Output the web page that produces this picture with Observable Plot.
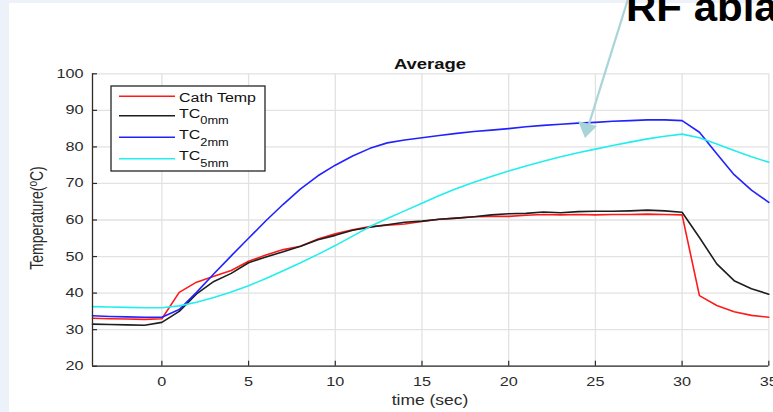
<!DOCTYPE html>
<html><head><meta charset="utf-8">
<script src="https://cdn.jsdelivr.net/npm/d3@7"></script>
<script src="https://cdn.jsdelivr.net/npm/@observablehq/plot@0.6"></script>
<style>
html,body{margin:0;padding:0}
body{width:773px;height:412px;overflow:hidden;background:#edf1fa;position:relative;font-family:"Liberation Sans",Arial,sans-serif}
#paper{position:absolute;left:9px;top:3px;right:0;bottom:0;background:#fff}
#chart{position:absolute;left:0;top:0}
#over{position:absolute;left:0;top:0;pointer-events:none}
</style></head><body>
<div id="paper"></div>
<div id="chart"></div>
<svg id="over" width="773" height="412"></svg>
<script>
// ---- data ----
const time = [-4,-3,-2,-1,0,1,2,3,4,5,6,7,8,9,10,11,12,13,14,15,16,17,18,19,20,21,22,23,24,25,26,27,28,29,30,31,32,33,34,35];
const cathTemp = [33.1,33.0,32.9,32.8,33.0,40.2,43.0,44.6,46.2,48.7,50.4,51.9,52.8,54.8,56.2,57.3,58.2,58.6,58.9,59.6,60.2,60.5,60.9,61.0,61.0,61.3,61.5,61.4,61.5,61.4,61.5,61.5,61.6,61.5,61.4,39.3,36.6,34.9,33.9,33.4];
const tc0mm = [31.5,31.4,31.3,31.2,32.0,35.0,39.8,43.2,45.4,48.3,49.9,51.3,52.8,54.6,55.8,57.2,58.0,58.7,59.4,59.7,60.2,60.5,60.9,61.4,61.7,61.8,62.2,62.0,62.3,62.4,62.4,62.5,62.7,62.5,62.1,55.2,48.0,43.4,41.2,39.7];
const tc2mm = [33.8,33.6,33.5,33.4,33.4,35.5,40.2,45.3,50.2,55.0,59.8,64.3,68.5,72.1,75.0,77.5,79.6,81.1,81.9,82.5,83.1,83.7,84.2,84.6,85.0,85.5,85.9,86.2,86.5,86.7,87.0,87.2,87.4,87.4,87.2,84.0,78.1,72.4,68.2,64.8];
const tc5mm = [36.3,36.2,36.1,36.0,36.0,36.5,37.5,38.8,40.3,42.0,44.0,46.1,48.3,50.6,53.0,55.6,58.2,60.4,62.5,64.6,66.7,68.6,70.3,71.9,73.4,74.8,76.1,77.3,78.4,79.4,80.4,81.3,82.2,82.9,83.5,82.5,80.8,79.0,77.3,75.8];
const seriesNames = ["Cath Temp", "TC0mm", "TC2mm", "TC5mm"];
const seriesColors = ["#ff1a1a", "#1e1e1e", "#2222ff", "#22eeee"];
const xTicks = [0,5,10,15,20,25,30,35];
const yTicks = [20,30,40,50,60,70,80,90,100];
const title = "Average";
const xLabel = "time (sec)";

const seriesValues = [cathTemp, tc0mm, tc2mm, tc5mm];
const rows = [];
seriesNames.forEach((s, k) => time.forEach((t, i) => rows.push({series: s, time: t, value: seriesValues[k][i]})));

const axisColor = "#2b2b2b";
const plot = Plot.plot({
  width: 773, height: 412,
  marginLeft: 92, marginRight: 4.7, marginTop: 73.3, marginBottom: 46.3,
  style: {background: "transparent", fontFamily: "'Liberation Sans', Arial, sans-serif", fontSize: "12.5px", color: axisColor, overflow: "hidden"},
  x: {domain: [-4, 35]},
  y: {domain: [20, 100]},
  color: {domain: seriesNames, range: seriesColors},
  marks: [
    Plot.gridX(xTicks, {stroke: "#e2e2e2", strokeOpacity: 1, strokeWidth: 1.3}),
    Plot.gridY(yTicks, {stroke: "#e2e2e2", strokeOpacity: 1, strokeWidth: 1.3}),
    Plot.lineY(rows, {x: "time", y: "value", z: "series", stroke: "series", strokeWidth: 1.6}),
    Plot.ruleX([-4], {stroke: axisColor, strokeWidth: 1.3}),
    Plot.ruleY([20], {stroke: axisColor, strokeWidth: 1.3}),
    Plot.axisX(xTicks, {tickSize: -5, tickPadding: 16, label: null, stroke: axisColor, strokeWidth: 1.2}),
    Plot.axisY(yTicks, {tickSize: -5, tickPadding: 14, label: null, stroke: axisColor, strokeWidth: 1.2})
  ]
});
document.getElementById("chart").appendChild(plot);

// widen tick label glyphs like the reference
plot.querySelectorAll('g[aria-label="x-axis tick label"] text, g[aria-label="y-axis tick label"] text').forEach(t => {
  const tr = t.getAttribute("transform") || "";
  t.setAttribute("transform", tr + " scale(1.3,1)");
  t.setAttribute("fill", axisColor);
});

// ---- overlay: title, labels, legend, annotation ----
const over = d3.select("#over");
const font = "'Liberation Sans', Arial, sans-serif";

// title
over.append("text").attr("transform", "translate(430,68.5) scale(1.32,1)")
  .attr("text-anchor", "middle").attr("font-family", font).attr("font-weight", "bold")
  .attr("font-size", 14).attr("fill", "#111").text(title);

// x label
over.append("text").attr("transform", "translate(430,404.5) scale(1.25,1)")
  .attr("text-anchor", "middle").attr("font-family", font).attr("font-size", 14).attr("fill", axisColor).text(xLabel);

// y label
const yl = over.append("text").attr("transform", "translate(43,218) rotate(-90) scale(1,1.25)")
  .attr("text-anchor", "middle").attr("font-family", font).attr("font-size", 14).attr("fill", axisColor);
yl.append("tspan").text("Temperature(");
yl.append("tspan").attr("font-size", 10).attr("dy", -5).text("o");
yl.append("tspan").attr("dy", 5).text("C)");

// legend
const lg = over.append("g");
lg.append("rect").attr("x", 111).attr("y", 86).attr("width", 154).attr("height", 85)
  .attr("fill", "#fff").attr("stroke", "#262626").attr("stroke-width", 1.3);
const lineY = [96.3, 115.7, 137.3, 158.7];
const textY = [101.7, 117.8, 139.4, 160.4];
seriesNames.forEach((s, k) => {
  lg.append("line").attr("x1", 119).attr("x2", 175).attr("y1", lineY[k]).attr("y2", lineY[k])
    .attr("stroke", seriesColors[k]).attr("stroke-width", 1.6);
  const t = lg.append("text").attr("transform", `translate(179,${textY[k]}) scale(1.28,1)`)
    .attr("font-family", font).attr("font-size", 12.5).attr("fill", "#111");
  if (s.startsWith("TC")) {
    t.append("tspan").text("TC");
    t.append("tspan").attr("font-size", 10).attr("dy", 6.3).text(s.slice(2));
  } else {
    t.text(s);
  }
});

// annotation from the slide
over.append("text").attr("transform", "translate(626,21) scale(1.05,1)")
  .attr("font-family", font).attr("font-weight", "bold").attr("font-size", 40).attr("fill", "#000").text("RF ablation");
over.append("line").attr("x1", 628).attr("y1", -1).attr("x2", 589).attr("y2", 124)
  .attr("stroke", "#a9d4d9").attr("stroke-width", 2.2);
over.append("path").attr("d", "M585,138 L578,121 L597,126 Z").attr("fill", "#a9d4d9");
</script>
</body></html>
